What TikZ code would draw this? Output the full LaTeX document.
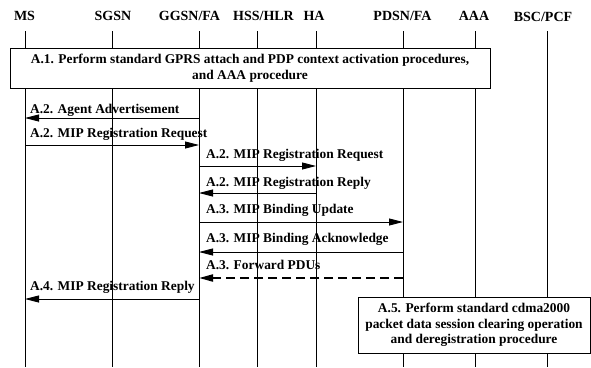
\documentclass[tikz,border=0pt]{standalone}
\usepackage{fontspec}
\setmainfont{Liberation Serif}
\usetikzlibrary{arrows.meta}

\tikzset{
  actor/.style={font=\fontsize{14}{16}\selectfont\bfseries, inner sep=0pt},
  life/.style={line width=0.9pt},
  msg/.style={line width=0.9pt, -{Triangle[length=14pt,width=7pt]}},
  fwd/.style={msg, line width=2pt, dash pattern=on 9pt off 5pt},
  lbl/.style={font=\fontsize{13.4}{15}\selectfont\bfseries, inner sep=0pt, anchor=base west},
  procbox/.style={draw, line width=1pt, fill=white, align=center, inner sep=2pt,
    font=\fontsize{13.4}{15.5}\selectfont\bfseries},
}

\begin{document}
\begin{tikzpicture}[x=1pt,y=-1pt]
\useasboundingbox (0,0) rectangle (591,367);
% entities
\node[actor] (ms) at (24.5,16){MS};
\node[actor] (sgsn) at (113,16){SGSN};
\node[actor] (ggsn) at (189.5,16){GGSN/FA};
\node[actor] (hss) at (263.5,16){HSS/HLR};
\node[actor] (ha) at (314,16){HA};
\node[actor] (pdsn) at (402.5,16){PDSN/FA};
\node[actor] (aaa) at (474,16){AAA};
\node[actor] (bsc) at (543,17){BSC/PCF};
% lifelines
\foreach \n/\x in {ms/25,sgsn/112,ggsn/199,hss/257,ha/316,pdsn/403,aaa/475,bsc/547}{
  \coordinate (\n top) at (\x,31);
  \coordinate (\n bot) at (\x,367);
  \draw[life] (\n top) -- (\n bot);
}
% procedure boxes
\node[procbox, minimum width=480pt, minimum height=40pt] (pa1) at (250,68){A.1. Perform standard GPRS attach and PDP context activation procedures,\\ and AAA procedure};
\node[procbox, minimum width=232pt, minimum height=56pt] (pa5) at (474,325){A.5. Perform standard cdma2000\\ packet data session clearing operation\\ and deregistration procedure};
% message end points
\coordinate (m1a) at (199,118); \coordinate (m1b) at (25,118);
\coordinate (m2a) at (25,145); \coordinate (m2b) at (199,145);
\coordinate (m3a) at (199,166); \coordinate (m3b) at (316,166);
\coordinate (m4a) at (316,193); \coordinate (m4b) at (199,193);
\coordinate (m5a) at (199,222); \coordinate (m5b) at (403,222);
\coordinate (m6a) at (403,252); \coordinate (m6b) at (199,252);
\coordinate (m7a) at (403,278); \coordinate (m7b) at (199,278);
\coordinate (m8a) at (199,299); \coordinate (m8b) at (25,299);
% messages
\draw[msg] (m1a) -- (m1b);
\node[lbl] (t1) at (30,113){A.2. Agent Advertisement};
\draw[msg] (m2a) -- (m2b);
\node[lbl] (t2) at (30,137){A.2. MIP Registration Request};
\draw[msg] (m3a) -- (m3b);
\node[lbl] (t3) at (206,158){A.2. MIP Registration Request};
\draw[msg] (m4a) -- (m4b);
\node[lbl] (t4) at (206,186){A.2. MIP Registration Reply};
\draw[msg] (m5a) -- (m5b);
\node[lbl] (t5) at (206,213){A.3. MIP Binding Update};
\draw[msg] (m6a) -- (m6b);
\node[lbl] (t6) at (206,242){A.3. MIP Binding Acknowledge};
\draw[fwd] (m7a) -- (m7b);
\node[lbl] (t7) at (206,269){A.3. Forward PDUs};
\draw[msg] (m8a) -- (m8b);
\node[lbl] (t8) at (30,290){A.4. MIP Registration Reply};
\end{tikzpicture}
\end{document}
